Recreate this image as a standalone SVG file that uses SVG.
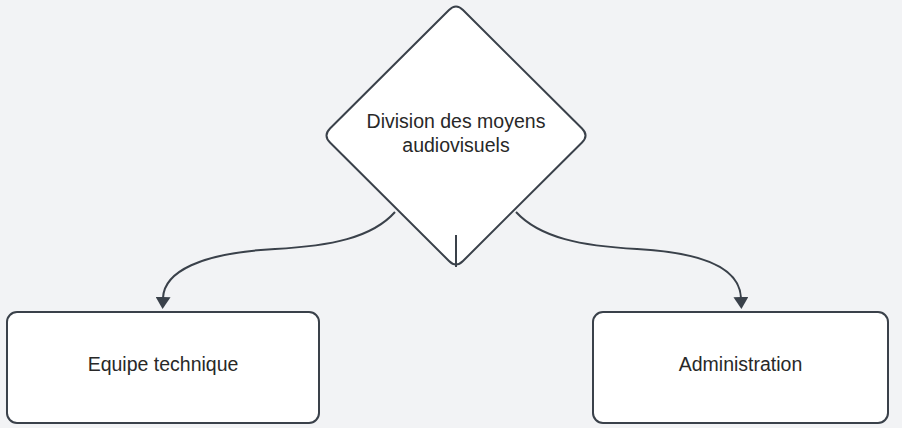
<svg xmlns="http://www.w3.org/2000/svg" width="902" height="428" viewBox="0 0 902 428">
<style>
.shape{fill:#ffffff;stroke:#3a414a;stroke-width:2}
.conn{fill:none;stroke:#3a414a;stroke-width:2}
.lbl{font-family:"Liberation Sans",Arial,sans-serif;font-size:19.5px;fill:#282828;text-anchor:middle}
</style>
<defs>
<marker id="arrow" viewBox="0 0 12 15" refX="1" refY="7.5" markerWidth="12" markerHeight="15" markerUnits="userSpaceOnUse" orient="auto">
<path d="M0,0 L12,7.5 L0,15 Z" fill="#3a414a"/>
</marker>
</defs>
<rect width="902" height="428" fill="#f2f3f5"/>
<g id="division">
<path class="shape" d="M449,10 Q456,3 463,10 L582,128.5 Q589,135.5 582,142.5 L463,261 Q456,268 449,261 L330,142.5 Q323,135.5 330,128.5 Z"/>
<text class="lbl" x="456" y="128">Division des moyens</text>
<text class="lbl" x="456" y="152">audiovisuels</text>
</g>
<g id="equipe">
<rect class="shape" x="7" y="312" width="312" height="111" rx="10"/>
<text class="lbl" x="163" y="371">Equipe technique</text>
</g>
<g id="administration">
<rect class="shape" x="593" y="312" width="295" height="111" rx="10"/>
<text class="lbl" x="740.5" y="371">Administration</text>
</g>
<g id="connectors">
<path class="conn" d="M395,212 C372,238 330,246 275,249 C200,253 164,272 163,298" marker-end="url(#arrow)"/>
<path class="conn" d="M516,212 C540,238 582,246 637,249 C712,253 740,272 741,298" marker-end="url(#arrow)"/>
<line class="conn" x1="456" y1="235" x2="456" y2="267"/>
</g>
</svg>
